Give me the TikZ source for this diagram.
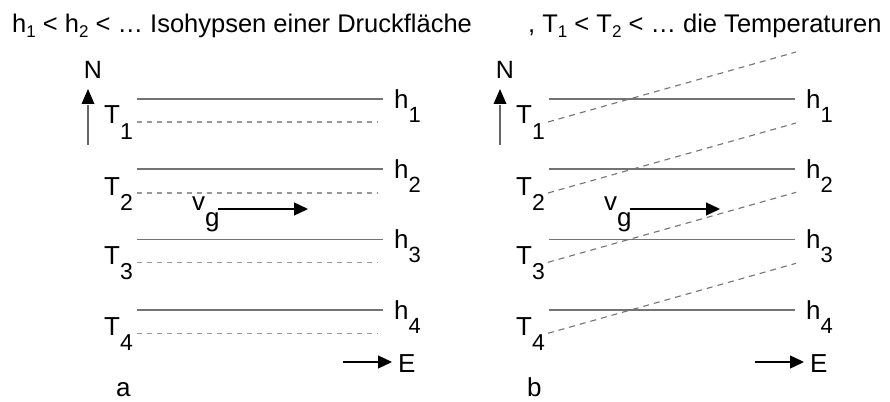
\documentclass[tikz,border=0pt]{standalone}
\usepackage{fontspec}
\setmainfont{Liberation Sans}
\usetikzlibrary{arrows.meta}
\newcommand\hsub[1]{\raisebox{-5pt}{\fontsize{17}{17}\selectfont #1}}
\newcommand\Tlab[1]{T\raisebox{-15pt}{\fontsize{23}{23}\selectfont #1}}
\newcommand\Hlab[1]{h\raisebox{-14pt}{\fontsize{22}{22}\selectfont #1}}
\tikzset{
  lab/.style={inner sep=0pt, anchor=base west, font=\fontsize{26}{30}\selectfont},
  head/.style={inner sep=0pt, anchor=base west, font=\fontsize{25.5}{30}\selectfont},
  solidline/.style={line width=1.2pt, draw=black!55},
  dashline/.style={line width=1.1pt, draw=black!40, dash pattern=on 5pt off 5pt},
  dashslant/.style={line width=1.1pt, draw=black!55, dash pattern=on 6pt off 5pt},
  arr/.style={line width=1.3pt, -{Triangle[length=14pt,width=13pt]}},
}
\begin{document}
\begin{tikzpicture}[x=1pt,y=-1pt]
\useasboundingbox (0,0) rectangle (890,401);
% header
\node[head] (hl) at (12,33) {h\hsub{1} < h\hsub{2} < … Isohypsen einer Druckfläche};
\node[head] (hr) at (528,33) {, T\hsub{1} < T\hsub{2} < … die Temperaturen};
\foreach \p/\dx in {a/0,b/412}{
  \begin{scope}[xshift=\dx pt]
  % N arrow
  \node[inner sep=0pt, anchor=base, font=\fontsize{25}{29}\selectfont] (N\p) at (93,79) {N};
  \coordinate (Ns\p) at (88,145);
  \coordinate (Ne\p) at (88,89);
  \draw[line width=1.3pt, draw=black!60] (Ns\p) -- ++(0,-40);
  \fill (Ne\p) -- ++(-6.5,15) -- ++(13,0) -- cycle;
  % solid isohypses
  \foreach \i/\y in {1/99,2/169,3/239.3,4/310}{
    \coordinate (hs\i\p) at (137,\y);
    \coordinate (he\i\p) at (383,\y);
    \draw[solidline] (hs\i\p) -- (he\i\p);
    \node[lab] (h\i\p) at (394,\y+9) {\Hlab{\i}};
  }
  % T labels
  \foreach \i/\y in {1/122,2/193,3/262.3,4/333.3}{
    \node[lab] (T\i\p) at (104,\y+2) {\Tlab{\i}};
  }
  % v_g
  \node[lab] (vg\p) at (192,210) {v\raisebox{-16pt}{g}};
  \coordinate (vs\p) at (218,209);
  \coordinate (ve\p) at (308,209);
  \draw[arr] (vs\p) -- (ve\p);
  % E
  \coordinate (Es\p) at (343,362);
  \coordinate (Ee\p) at (392,362);
  \draw[arr] (Es\p) -- (Ee\p);
  \node[lab, font=\fontsize{26}{30}\selectfont] (E\p) at (398,372) {E};
  \end{scope}
}
% panel letters
\node[lab, font=\fontsize{26}{30}\selectfont] (la) at (116,396) {a};
\node[lab, font=\fontsize{26}{30}\selectfont] (lb) at (527,396) {b};
% dashed isotherms panel a
\foreach \i/\y in {1/122,2/193,3/262.3,4/333.3}{
  \coordinate (ds\i a) at (137,\y);
  \coordinate (de\i a) at (378,\y);
  \draw[dashline] (ds\i a) -- (de\i a);
}
% dashed isotherms panel b (tilted)
\foreach \i/\y in {1/122,2/193,3/262.3,4/333.3}{
  \coordinate (ds\i b) at (548,\y);
  \coordinate (de\i b) at (796,\y-70);
  \draw[dashslant] (ds\i b) -- (de\i b);
}
\end{tikzpicture}
\end{document}
